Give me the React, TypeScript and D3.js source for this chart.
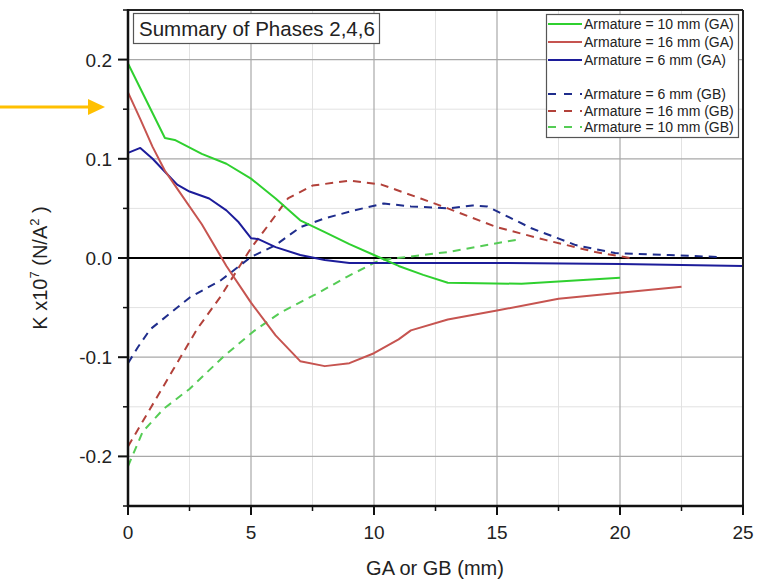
import React, { useEffect, useRef } from "react";
import * as d3 from "d3";

const W = 769;
const H = 581;

// Series data (x in mm, y in K x10^7 N/A^2)
const ga10X = [0, 1.5, 1.9, 3.0, 4.0, 5.0, 6.0, 7.0, 8.0, 9.0, 10.0, 11.0, 12.0, 13.0, 16.0, 20.0];
const ga10Y = [0.196, 0.121, 0.119, 0.105, 0.095, 0.080, 0.060, 0.038, 0.026, 0.014, 0.003, -0.008, -0.017, -0.025, -0.026, -0.020];

const ga16X = [0, 0.5, 1, 1.5, 2, 3, 4, 5, 6, 7, 8, 9, 10, 11, 11.5, 13, 15, 17.5, 20, 22.5];
const ga16Y = [0.167, 0.140, 0.112, 0.088, 0.070, 0.034, -0.008, -0.045, -0.078, -0.104, -0.109, -0.106, -0.096, -0.082, -0.073, -0.062, -0.053, -0.041, -0.035, -0.029];

const ga6X = [0, 0.5, 1, 1.5, 2, 2.5, 3.3, 4, 4.5, 5, 5.3, 6, 7, 8, 9, 12, 15, 20, 25];
const ga6Y = [0.106, 0.111, 0.100, 0.087, 0.074, 0.067, 0.060, 0.048, 0.036, 0.020, 0.019, 0.011, 0.003, -0.002, -0.005, -0.005, -0.005, -0.006, -0.008];

const gb6X = [0, 0.4, 0.9, 1.9, 2.5, 3.8, 5, 6, 7, 8, 9.2, 10.4, 11.5, 13, 14, 14.6, 16.4, 18.2, 19.8, 22, 24];
const gb6Y = [-0.106, -0.090, -0.072, -0.052, -0.040, -0.022, 0.001, 0.013, 0.031, 0.040, 0.048, 0.055, 0.052, 0.050, 0.053, 0.052, 0.030, 0.013, 0.005, 0.003, 0.001];

const gb16X = [0, 0.9, 1.85, 2.8, 3.76, 5, 5.7, 6.5, 7.5, 9, 10.3, 11.9, 13, 15, 17, 19, 20.4];
const gb16Y = [-0.190, -0.152, -0.112, -0.072, -0.039, 0.010, 0.033, 0.060, 0.073, 0.078, 0.074, 0.060, 0.050, 0.031, 0.018, 0.006, 0.000];

const gb10X = [0, 0.6, 1.45, 2.5, 3.9, 5.1, 6.2, 7.6, 8.9, 10, 10.3, 13, 15.7, 16];
const gb10Y = [-0.210, -0.175, -0.152, -0.132, -0.099, -0.074, -0.055, -0.037, -0.019, -0.005, -0.002, 0.006, 0.018, 0.019];

const xTicks = [0, 5, 10, 15, 20, 25];
const xMinor = [2.5, 7.5, 12.5, 17.5, 22.5];
const yTicks = [-0.2, -0.1, 0.0, 0.1, 0.2];
const yMinor = [-0.25, -0.15, -0.05, 0.05, 0.15, 0.25];

const legendLabels = [
  "Armature = 10 mm (GA)",
  "Armature = 16 mm (GA)",
  "Armature = 6 mm (GA)",
  "Armature = 6 mm (GB)",
  "Armature = 16 mm (GB)",
  "Armature = 10 mm (GB)",
];

const titleText = "Summary of Phases 2,4,6";
const xLabel = "GA or GB (mm)";

const COLORS = {
  green: "#2fd02f",
  red: "#c65450",
  blue: "#1c1c9a",
  blueDash: "#1f2d8c",
  redDash: "#b2413a",
  greenDash: "#55cc55",
};

export default function App() {
  const ref = useRef<SVGSVGElement | null>(null);

  useEffect(() => {
    const svg = d3.select(ref.current);
    svg.selectAll("*").remove();
    const font = "'Liberation Sans', Arial, sans-serif";

    const L = 128, R = 743, T = 10, B = 506;
    const x = d3.scaleLinear().domain([0, 25]).range([L, R]);
    const y = d3.scaleLinear().domain([-0.25, 0.25]).range([B, T]);

    svg.append("rect").attr("width", W).attr("height", H).attr("fill", "#fff");

    // grid
    const g = svg.append("g");
    xMinor.forEach((v) => g.append("line").attr("x1", x(v)).attr("x2", x(v)).attr("y1", T).attr("y2", B).attr("stroke", "#e2e2e2").attr("stroke-width", 1));
    yMinor.filter((v) => Math.abs(v) < 0.25).forEach((v) => g.append("line").attr("x1", L).attr("x2", R).attr("y1", y(v)).attr("y2", y(v)).attr("stroke", "#e2e2e2").attr("stroke-width", 1));
    xTicks.filter((v) => v > 0 && v < 25).forEach((v) => g.append("line").attr("x1", x(v)).attr("x2", x(v)).attr("y1", T).attr("y2", B).attr("stroke", "#a8a8a8").attr("stroke-width", 1.2));
    yTicks.filter((v) => v !== 0).forEach((v) => g.append("line").attr("x1", L).attr("x2", R).attr("y1", y(v)).attr("y2", y(v)).attr("stroke", "#a8a8a8").attr("stroke-width", 1.2));

    // zero line
    g.append("line").attr("x1", L).attr("x2", R).attr("y1", y(0)).attr("y2", y(0)).attr("stroke", "#000").attr("stroke-width", 2);

    // series
    const line = d3.line<[number, number]>().x((d) => x(d[0])).y((d) => y(d[1]));
    const series = [
      { xs: gb10X, ys: gb10Y, color: COLORS.greenDash, dash: "8,6" },
      { xs: gb16X, ys: gb16Y, color: COLORS.redDash, dash: "8,6" },
      { xs: gb6X, ys: gb6Y, color: COLORS.blueDash, dash: "8,6" },
      { xs: ga6X, ys: ga6Y, color: COLORS.blue, dash: null },
      { xs: ga16X, ys: ga16Y, color: COLORS.red, dash: null },
      { xs: ga10X, ys: ga10Y, color: COLORS.green, dash: null },
    ];
    series.forEach((s) => {
      const pts = s.xs.map((v, i) => [v, s.ys[i]] as [number, number]);
      const p = svg.append("path").attr("d", line(pts)).attr("fill", "none").attr("stroke", s.color).attr("stroke-width", 2).attr("stroke-linejoin", "round");
      if (s.dash) p.attr("stroke-dasharray", s.dash);
    });

    // frame
    svg.append("line").attr("x1", L).attr("x2", R).attr("y1", T).attr("y2", T).attr("stroke", "#222").attr("stroke-width", 2);
    svg.append("line").attr("x1", R).attr("x2", R).attr("y1", T).attr("y2", B).attr("stroke", "#222").attr("stroke-width", 2);
    svg.append("line").attr("x1", L).attr("x2", L).attr("y1", T - 1).attr("y2", B + 1).attr("stroke", "#111").attr("stroke-width", 2.5);
    svg.append("line").attr("x1", L - 1).attr("x2", R + 1).attr("y1", B).attr("y2", B).attr("stroke", "#111").attr("stroke-width", 2.5);

    // ticks
    xTicks.forEach((v) => svg.append("line").attr("x1", x(v)).attr("x2", x(v)).attr("y1", B).attr("y2", B + 9).attr("stroke", "#111").attr("stroke-width", 2));
    xMinor.forEach((v) => svg.append("line").attr("x1", x(v)).attr("x2", x(v)).attr("y1", B).attr("y2", B + 5).attr("stroke", "#111").attr("stroke-width", 1.5));
    yTicks.forEach((v) => svg.append("line").attr("x1", L - 10).attr("x2", L).attr("y1", y(v)).attr("y2", y(v)).attr("stroke", "#111").attr("stroke-width", 2));
    yMinor.forEach((v) => svg.append("line").attr("x1", L - 5).attr("x2", L).attr("y1", y(v)).attr("y2", y(v)).attr("stroke", "#111").attr("stroke-width", 1.5));

    // tick labels
    xTicks.forEach((v) => svg.append("text").attr("x", x(v)).attr("y", 539).attr("text-anchor", "middle").attr("font-family", font).attr("font-size", 19).attr("fill", "#222").text(String(v)));
    yTicks.forEach((v) => svg.append("text").attr("x", 112).attr("y", y(v) + 7).attr("text-anchor", "end").attr("font-family", font).attr("font-size", 19).attr("fill", "#222").text(v.toFixed(1).replace("\u2212", "-")));

    // axis labels
    svg.append("text").attr("x", 435).attr("y", 575).attr("text-anchor", "middle").attr("font-family", font).attr("font-size", 20).attr("fill", "#222").text(xLabel);
    const yl = svg.append("text").attr("transform", "translate(47,268) rotate(-90)").attr("text-anchor", "middle").attr("font-family", font).attr("font-size", 20).attr("fill", "#222");
    yl.append("tspan").text("K  x10");
    yl.append("tspan").attr("font-size", 13).attr("dy", -8).text("7");
    yl.append("tspan").attr("dy", 8).text(" (N/A");
    yl.append("tspan").attr("font-size", 13).attr("dy", -8).text("2");
    yl.append("tspan").attr("dy", 8).text(" )");

    // title box
    svg.append("rect").attr("x", 133.5).attr("y", 13.5).attr("width", 246).attr("height", 30).attr("fill", "#fff").attr("stroke", "#555").attr("stroke-width", 1.2);
    svg.append("text").attr("x", 139).attr("y", 35.5).attr("font-family", font).attr("font-size", 20.5).attr("fill", "#222").text(titleText);

    // legend
    svg.append("rect").attr("x", 546.5).attr("y", 14.5).attr("width", 192).attr("height", 123).attr("fill", "#fff").attr("stroke", "#555").attr("stroke-width", 1.2);
    const legendItems = [
      { color: COLORS.green, dash: null, yy: 24 },
      { color: COLORS.red, dash: null, yy: 42 },
      { color: COLORS.blue, dash: null, yy: 60 },
      { color: COLORS.blueDash, dash: "8,8", yy: 94 },
      { color: COLORS.redDash, dash: "8,8", yy: 111 },
      { color: COLORS.greenDash, dash: "8,8", yy: 127 },
    ];
    legendItems.forEach((it, i) => {
      const ln = svg.append("line").attr("x1", 548).attr("x2", 582).attr("y1", it.yy).attr("y2", it.yy).attr("stroke", it.color).attr("stroke-width", 2);
      if (it.dash) ln.attr("stroke-dasharray", it.dash);
      svg.append("text").attr("x", 584).attr("y", it.yy + 5).attr("font-family", font).attr("font-size", 14).attr("fill", "#222").text(legendLabels[i]);
    });

    // arrow annotation
    svg.append("line").attr("x1", 0).attr("x2", 90).attr("y1", 107).attr("y2", 107).attr("stroke", "#ffc000").attr("stroke-width", 3);
    svg.append("path").attr("d", "M88,99 L105,107 L88,115 Z").attr("fill", "#ffc000");
  }, []);

  return (
    <svg ref={ref} width={W} height={H} style={{ position: "absolute", left: 0, top: 0 }} />
  );
}
